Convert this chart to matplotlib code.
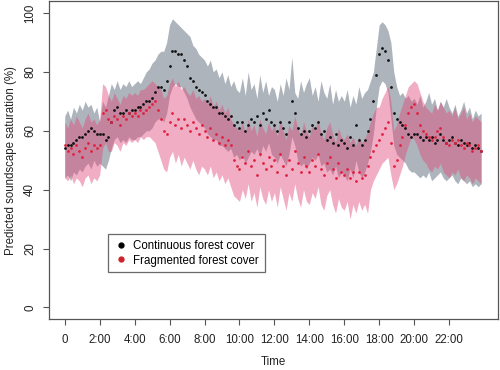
import numpy as np
import matplotlib.pyplot as plt
from matplotlib.lines import Line2D

plt.rcParams['font.family'] = ['Liberation Sans', 'DejaVu Sans']

# time of day in hours, one value every 10 minutes
hours = np.arange(0, 24, 1 / 6)

# continuous forest cover: predicted mean and interval
cont_mean = [
    54, 55, 55, 56, 57, 58, 58, 59, 60, 61, 60, 59,
    59, 59, 57, 58, 63, 67, 68, 66, 66, 67, 66, 67,
    67, 68, 68, 69, 70, 70, 71, 73, 75, 75, 74, 77,
    82, 87, 87, 86, 86, 84, 82, 78, 77, 75, 74, 73,
    72, 70, 69, 68, 68, 66, 66, 65, 64, 65, 62, 63,
    61, 63, 60, 62, 64, 63, 65, 62, 66, 64, 67, 63,
    62, 60, 63, 61, 59, 63, 70, 66, 61, 59, 60, 58,
    60, 62, 61, 63, 59, 60, 57, 58, 56, 59, 55, 57,
    56, 54, 58, 55, 62, 57, 55, 57, 60, 64, 70, 79,
    86, 88, 87, 84, 75, 66, 64, 63, 62, 61, 59, 58,
    59, 59, 58, 57, 58, 57, 58, 56, 57, 59, 57, 56,
    57, 58, 56, 55, 57, 56, 55, 56, 54, 55, 54, 53,
]
cont_upper = [
    65, 67, 64, 68, 66, 69, 67, 70, 68, 69, 66, 68,
    63, 70, 68, 72, 76, 74, 77, 74, 76, 75, 77, 75,
    76, 77, 76, 78, 80, 81, 83, 84, 86, 87, 87, 90,
    96, 98, 97, 96, 95, 94, 93, 92, 89, 88, 86, 85,
    84, 82, 84, 80, 81, 78, 80, 76, 79, 75, 77, 74,
    73, 78, 72, 80, 74, 76, 71, 79, 73, 77, 72, 75,
    74, 70, 76, 72, 78, 74, 85, 73, 71, 77, 73, 76,
    78, 72, 75, 70, 77, 73, 71, 76, 69, 74, 70, 72,
    70, 74, 68, 72, 69, 75, 71, 73, 74, 77, 80, 88,
    96, 97, 96, 94, 90, 80, 75, 72, 73, 71, 72, 70,
    71, 69, 72, 68, 70, 73, 69, 71, 67, 70, 68, 71,
    68, 66, 69, 65, 67, 70, 66, 68, 64, 67, 65, 66,
]
cont_lower = [
    44, 45, 43, 46, 45, 47, 46, 48, 49, 47, 50, 48,
    49, 48, 47, 50, 54, 57, 58, 56, 57, 56, 58, 57,
    57, 58, 58, 59, 60, 60, 61, 63, 64, 64, 63, 66,
    72, 75, 76, 75, 75, 73, 71, 68, 66, 64, 63, 62,
    61, 59, 58, 57, 57, 55, 55, 54, 53, 54, 51, 52,
    50, 52, 49, 51, 53, 52, 54, 51, 55, 53, 56, 52,
    51, 49, 52, 50, 48, 52, 58, 55, 50, 48, 49, 47,
    49, 51, 50, 52, 48, 49, 46, 47, 45, 48, 44, 46,
    45, 43, 47, 44, 50, 46, 44, 46, 49, 53, 59, 68,
    75, 77, 76, 73, 64, 55, 52, 51, 50, 49, 47, 46,
    46, 45, 44, 45, 44, 46, 43, 44, 45, 46, 44, 43,
    44, 45, 43, 42, 44, 43, 42, 43, 41, 42, 41, 42,
]

# fragmented forest cover: predicted mean and interval
frag_mean = [
    55, 53, 54, 52, 55, 53, 51, 54, 56, 53, 55, 54,
    55, 66, 67, 64, 63, 65, 64, 62, 65, 64, 66, 65,
    66, 65, 67, 66, 67, 68, 69, 70, 67, 64, 60, 59,
    63, 66, 62, 64, 61, 64, 62, 60, 63, 61, 59, 62,
    60, 58, 61, 57, 59, 56, 58, 55, 57, 55, 50, 48,
    47, 51, 49, 53, 48, 50, 45, 52, 49, 47, 51, 48,
    50, 46, 52, 48, 45, 50, 47, 53, 49, 46, 51, 48,
    46, 50, 48, 52, 47, 45, 49, 51, 47, 44, 49, 46,
    45, 47, 44, 46, 43, 46, 44, 45, 48, 51, 53, 55,
    57, 59, 61, 63, 56, 48, 50, 55, 58, 62, 66, 68,
    69, 66, 62, 60, 59, 58, 57, 58, 60, 61, 58, 56,
    55, 57, 56, 57, 55, 54, 56, 55, 53, 54, 55, 53,
]
frag_upper = [
    63, 61, 64, 62, 65, 63, 61, 64, 66, 63, 64, 62,
    64, 76, 75, 72, 70, 73, 71, 69, 72, 71, 73, 72,
    73, 72, 74, 74, 75, 76, 77, 76, 75, 74, 71, 72,
    76, 78, 75, 77, 74, 75, 73, 72, 74, 71, 72, 70,
    71, 69, 72, 68, 70, 67, 69, 66, 68, 64, 62, 61,
    60, 63, 59, 64, 60, 62, 58, 64, 61, 59, 63, 60,
    62, 58, 64, 60, 57, 62, 60, 65, 61, 58, 63, 60,
    58, 62, 60, 64, 59, 57, 61, 63, 59, 56, 61, 58,
    57, 59, 56, 58, 55, 58, 56, 57, 60, 63, 66, 68,
    68, 71, 73, 75, 70, 60, 62, 66, 69, 72, 75, 76,
    77, 76, 73, 70, 68, 67, 66, 69, 67, 70, 68, 66,
    67, 65, 68, 64, 66, 68, 64, 66, 63, 65, 64, 63,
]
frag_lower = [
    44, 43, 45, 42, 44, 43, 41, 44, 45, 42, 44, 43,
    45, 54, 56, 53, 53, 56, 55, 53, 56, 55, 57, 56,
    57, 56, 58, 57, 58, 58, 57, 56, 53, 50, 47, 46,
    51, 53, 49, 52, 48, 51, 49, 47, 50, 47, 45, 48,
    47, 45, 48, 44, 46, 43, 45, 42, 44, 41, 38, 37,
    36, 40, 37, 42, 36, 39, 34, 41, 37, 35, 40, 36,
    39, 34, 41, 37, 33, 39, 36, 42, 37, 34, 40, 36,
    35, 39, 37, 41, 35, 33, 38, 40, 35, 32, 37, 34,
    33, 36, 30, 35, 32, 36, 33, 35, 32, 40, 43, 45,
    47, 49, 50, 51, 45, 40, 42, 45, 48, 52, 55, 58,
    57, 55, 52, 50, 49, 47, 46, 48, 47, 49, 46, 45,
    44, 46, 45, 47, 44, 43, 45, 44, 42, 44, 43, 42,
]

tick_hours = list(range(0, 24, 2))
tick_labels = ['0'] + [f'{h}:00' for h in tick_hours[1:]]

fig = plt.figure(figsize=(5, 3.7), dpi=100)
ax = fig.add_axes([0.097, 0.138, 0.899, 0.858])

# grey band + black points, then pink band on top + red points
ax.fill_between(hours, cont_lower, cont_upper, color='#aeb4bc', lw=0)
ax.plot(hours, cont_mean, 'o', color='#111111', ms=2.0, mew=0)
ax.fill_between(hours, frag_lower, frag_upper, color='#e24a7a', alpha=0.45, lw=0)
ax.plot(hours, frag_mean, 'o', color='#e02040', ms=2.0, mew=0)

ax.set_xlim(-0.93, 24.8)
ax.set_ylim(-3.9, 103.9)
ax.set_xticks(tick_hours)
ax.set_xticklabels(tick_labels)
ax.set_yticks([0, 20, 40, 60, 80, 100])
ax.set_yticklabels(['0', '20', '40', '60', '80', '100'], rotation=90, va='center')

for s in ax.spines.values():
    s.set_color('#555555')
    s.set_linewidth(0.9)
ax.tick_params(direction='out', length=4, width=0.8, color='#555555',
               labelsize=8.3, labelcolor='#222222')
ax.tick_params(axis='x', pad=7)
ax.tick_params(axis='y', pad=5)

ax.set_xlabel('Time', fontsize=8.3, color='#222222', labelpad=7)
ax.set_ylabel('Predicted soundscape saturation (%)', fontsize=8.3,
              color='#222222', labelpad=5)

handles = [
    Line2D([], [], ls='none', marker='o', color='black', ms=3.5),
    Line2D([], [], ls='none', marker='o', color='#d0202a', ms=3.5),
]
leg = ax.legend(handles, ['Continuous forest cover', 'Fragmented forest cover'],
                loc='upper left', bbox_to_anchor=(0.132, 0.268), fontsize=8.3,
                frameon=True, fancybox=False, handletextpad=0.5,
                handlelength=1.2, borderpad=0.5, labelspacing=0.25,
                borderaxespad=0)
leg.get_frame().set_edgecolor('#444444')
leg.get_frame().set_linewidth(0.9)

fig.savefig('out.png', dpi=100)
